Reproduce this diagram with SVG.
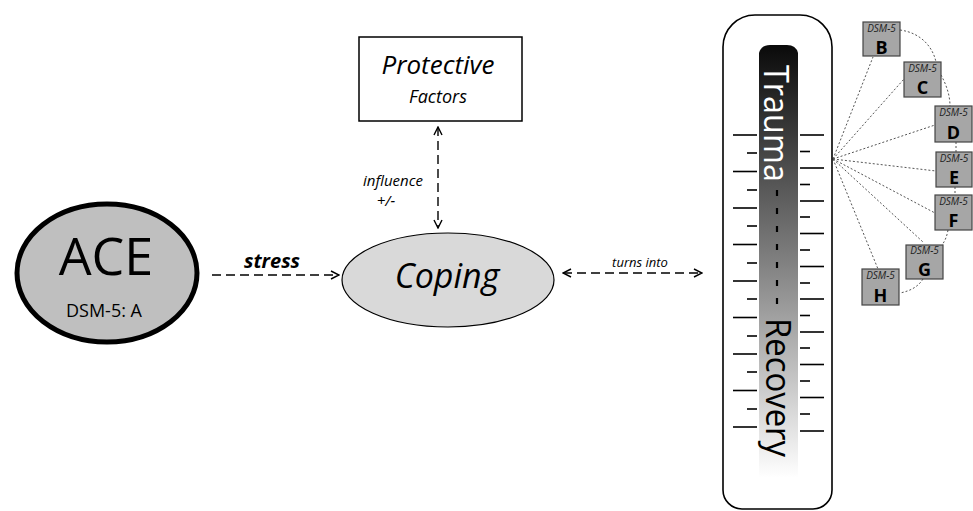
<svg xmlns="http://www.w3.org/2000/svg" width="973" height="511" viewBox="0 0 973 511">
<defs>
<style>
.t{font-family:"Open Sans","Liberation Sans",sans-serif;}
.dash{fill:none;stroke:#000;stroke-width:1.4;stroke-dasharray:9,5;}
.dot{fill:none;stroke:#555;stroke-width:1;stroke-dasharray:2,2;}
.box{fill:#a6a6a6;stroke:#444;stroke-width:1.2;}
.tick{stroke:#000;stroke-width:1.6;}
.dsm{font-family:"Open Sans","Liberation Sans",sans-serif;font-style:italic;font-size:10px;fill:#222;text-anchor:middle;}
.let{font-family:"Open Sans","Liberation Sans",sans-serif;font-weight:bold;font-size:18px;fill:#000;text-anchor:middle;}
</style>
<marker id="ah" viewBox="0 0 10 10" refX="9" refY="5" markerWidth="10" markerHeight="10" markerUnits="userSpaceOnUse" orient="auto-start-reverse">
<path d="M1,1 L9,5 L1,9" fill="none" stroke="#000" stroke-width="1.4"/>
</marker>
<linearGradient id="grad" x1="0" y1="0" x2="0" y2="1">
<stop offset="0" stop-color="#0a0a0a"/>
<stop offset="0.5" stop-color="#808080"/>
<stop offset="1" stop-color="#ffffff"/>
</linearGradient>
</defs>
<rect width="973" height="511" fill="#fff"/>

<g id="connectors">
<line class="dash" x1="212" y1="275" x2="339" y2="275" marker-end="url(#ah)"/>
<line class="dash" x1="438" y1="127" x2="438" y2="228" marker-start="url(#ah)" marker-end="url(#ah)"/>
<line class="dash" x1="563" y1="273" x2="702" y2="273" marker-start="url(#ah)" marker-end="url(#ah)"/>
<g id="dsm-links">
<line class="dot" x1="833" y1="159" x2="873" y2="57"/>
<line class="dot" x1="833" y1="159" x2="904" y2="79"/>
<line class="dot" x1="833" y1="159" x2="935" y2="125"/>
<line class="dot" x1="833" y1="159" x2="936" y2="171"/>
<line class="dot" x1="833" y1="159" x2="935" y2="213"/>
<line class="dot" x1="833" y1="159" x2="923" y2="242"/>
<line class="dot" x1="833" y1="159" x2="878" y2="269"/>
<path class="dot" d="M900,30 C922,33 933,48 936,62"/>
<path class="dot" d="M941,75 C946,84 950,95 950,106"/>
<line class="dot" x1="956" y1="142" x2="956" y2="152"/>
<line class="dot" x1="955" y1="187" x2="955" y2="195"/>
<path class="dot" d="M948,230 C947,236 945,241 942,245"/>
<path class="dot" d="M923,279 C918,287 910,291 900,293"/>
</g>
</g>

<g id="ace">
<ellipse cx="107" cy="273" rx="90" ry="69" fill="#bfbfbf" stroke="#000" stroke-width="5"/>
<text class="t" x="106" y="275" font-size="52" text-anchor="middle">ACE</text>
<text class="t" x="104" y="317" font-size="18" text-anchor="middle">DSM-5: A</text>
</g>
<text class="t" x="272" y="268" font-size="20" font-weight="bold" font-style="italic" text-anchor="middle">stress</text>

<g id="protective">
<rect x="359" y="37" width="163" height="84" fill="#fff" stroke="#000" stroke-width="1.5"/>
<text class="t" x="438" y="74" font-size="26" font-style="italic" text-anchor="middle">Protective</text>
<text class="t" x="438" y="103" font-size="18" font-style="italic" text-anchor="middle">Factors</text>
</g>
<text class="t" x="393" y="186" font-size="15" font-style="italic" text-anchor="middle">influence</text>
<text class="t" x="386" y="206" font-size="15" font-style="italic" text-anchor="middle">+/-</text>

<g id="coping">
<ellipse cx="448" cy="280" rx="106" ry="47" fill="#d9d9d9" stroke="#000" stroke-width="1.2"/>
<text class="t" x="447" y="288" font-size="34" font-style="italic" text-anchor="middle">Coping</text>
</g>
<text class="t" x="640" y="267" font-size="13" font-style="italic" text-anchor="middle">turns into</text>

<g id="thermometer">
<path d="M723,47 A32,32 0 0 1 755,15 L800,15 A32,32 0 0 1 832,47 L832,490 A19,19 0 0 1 813,509 L742,509 A19,19 0 0 1 723,490 Z" fill="#fff" stroke="#000" stroke-width="1.6"/>
<path d="M759,478 L759,53 Q761,45 770,45 L787,45 Q796,45 798,53 L798,478 Z" fill="url(#grad)"/>
<g class="tick">
<line x1="733" y1="135" x2="757" y2="135"/>
<line x1="747" y1="153" x2="757" y2="153"/>
<line x1="733" y1="171.5" x2="757" y2="171.5"/>
<line x1="747" y1="190" x2="757" y2="190"/>
<line x1="733" y1="208" x2="757" y2="208"/>
<line x1="747" y1="226" x2="757" y2="226"/>
<line x1="733" y1="244.5" x2="757" y2="244.5"/>
<line x1="747" y1="263" x2="757" y2="263"/>
<line x1="733" y1="281" x2="757" y2="281"/>
<line x1="747" y1="299" x2="757" y2="299"/>
<line x1="733" y1="317.5" x2="757" y2="317.5"/>
<line x1="747" y1="336" x2="757" y2="336"/>
<line x1="733" y1="354" x2="757" y2="354"/>
<line x1="747" y1="372" x2="757" y2="372"/>
<line x1="733" y1="390.5" x2="757" y2="390.5"/>
<line x1="747" y1="409" x2="757" y2="409"/>
<line x1="733" y1="427" x2="757" y2="427"/>
<line x1="800" y1="135" x2="824" y2="135"/>
<line x1="800" y1="151.5" x2="810" y2="151.5"/>
<line x1="800" y1="168" x2="824" y2="168"/>
<line x1="800" y1="184.5" x2="810" y2="184.5"/>
<line x1="800" y1="201" x2="824" y2="201"/>
<line x1="800" y1="217" x2="810" y2="217"/>
<line x1="800" y1="233.5" x2="824" y2="233.5"/>
<line x1="800" y1="250" x2="810" y2="250"/>
<line x1="800" y1="266.5" x2="824" y2="266.5"/>
<line x1="800" y1="283" x2="810" y2="283"/>
<line x1="800" y1="299" x2="824" y2="299"/>
<line x1="800" y1="315.5" x2="810" y2="315.5"/>
<line x1="800" y1="332" x2="824" y2="332"/>
<line x1="800" y1="348" x2="810" y2="348"/>
<line x1="800" y1="364.5" x2="824" y2="364.5"/>
<line x1="800" y1="381" x2="810" y2="381"/>
<line x1="800" y1="397.5" x2="824" y2="397.5"/>
<line x1="800" y1="414" x2="810" y2="414"/>
<line x1="800" y1="431" x2="824" y2="431"/>
</g>
<text class="t" transform="translate(764,65) rotate(90)" font-size="35" fill="#fff" textLength="117" lengthAdjust="spacingAndGlyphs">Trauma</text>
<line x1="777" y1="190" x2="777" y2="310" stroke="#000" stroke-width="2.2" stroke-dasharray="6,12"/>
<text class="t" transform="translate(766,318) rotate(90)" font-size="35" fill="#000" textLength="139" lengthAdjust="spacingAndGlyphs">Recovery</text>
</g>

<g id="dsm-b"><rect class="box" x="863" y="22" width="37" height="34"/><text class="dsm" x="881.5" y="32">DSM-5</text><text class="let" x="881.5" y="54">B</text></g>
<g id="dsm-c"><rect class="box" x="904" y="62" width="37" height="35"/><text class="dsm" x="922.5" y="72">DSM-5</text><text class="let" x="922.5" y="94">C</text></g>
<g id="dsm-d"><rect class="box" x="935" y="106" width="37" height="36"/><text class="dsm" x="953.5" y="116">DSM-5</text><text class="let" x="953.5" y="139">D</text></g>
<g id="dsm-e"><rect class="box" x="936" y="152" width="36" height="35"/><text class="dsm" x="954" y="162">DSM-5</text><text class="let" x="954" y="184">E</text></g>
<g id="dsm-f"><rect class="box" x="935" y="195" width="37" height="35"/><text class="dsm" x="953.5" y="205">DSM-5</text><text class="let" x="953.5" y="227">F</text></g>
<g id="dsm-g"><rect class="box" x="906" y="245" width="37" height="34"/><text class="dsm" x="924.5" y="254">DSM-5</text><text class="let" x="924.5" y="276">G</text></g>
<g id="dsm-h"><rect class="box" x="862" y="269" width="37" height="36"/><text class="dsm" x="880.5" y="279">DSM-5</text><text class="let" x="880.5" y="302">H</text></g>
</svg>
